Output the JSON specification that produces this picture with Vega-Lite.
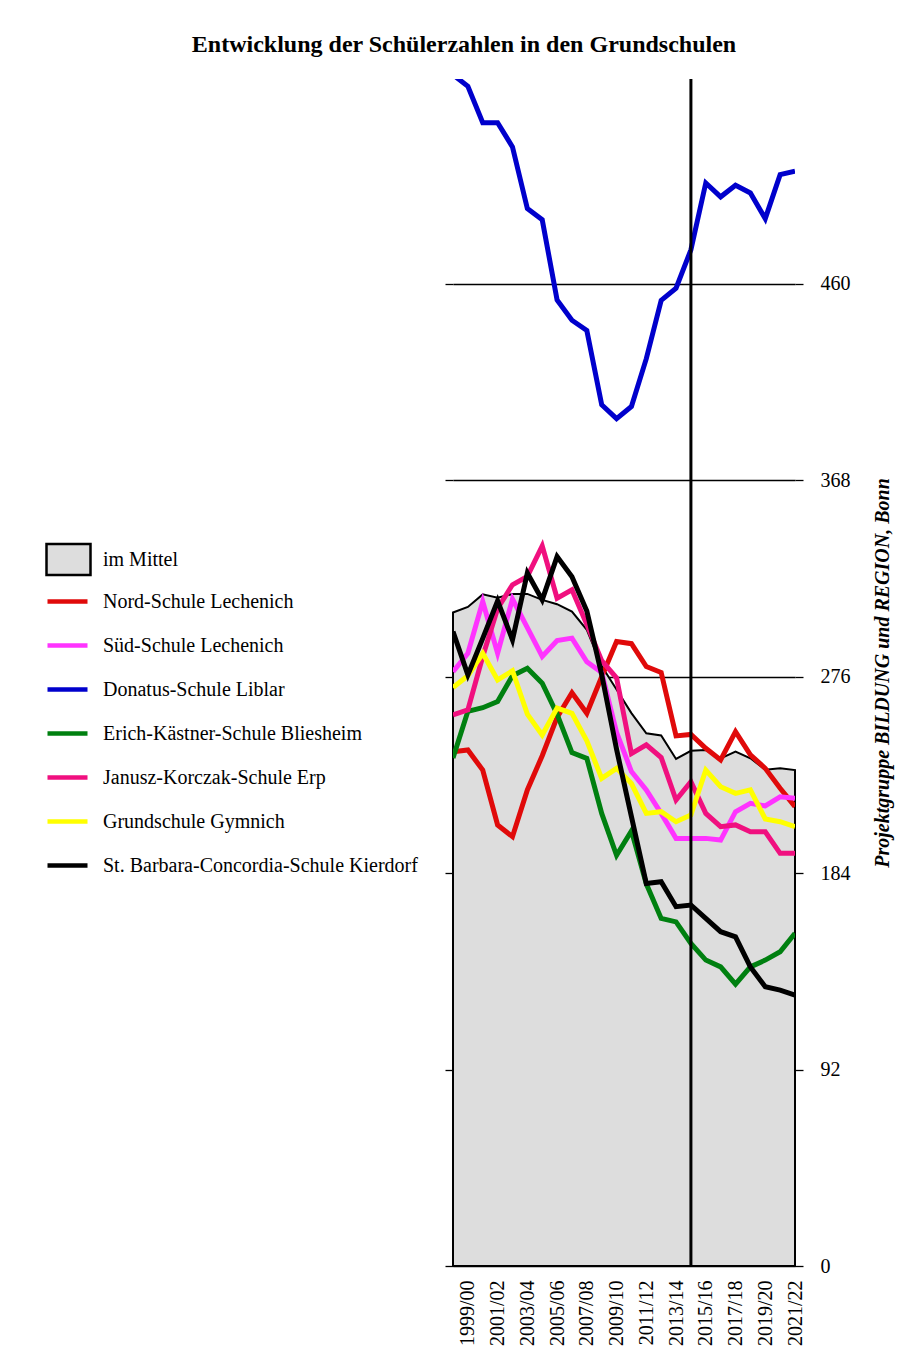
{
  "$schema": "https://vega.github.io/schema/vega-lite/v6.json",
  "width": 342,
  "height": 1187,
  "autosize": {"type": "none"},
  "padding": {"left": 453, "top": 79, "right": 115, "bottom": 100},
  "background": "white",
  "config": {
    "view": {"stroke": null},
    "font": "Liberation Serif",
    "legend": {"padding": 0, "labelFont": "Liberation Serif", "labelFontSize": 20, "labelColor": "black", "labelLimit": 0}
  },
  "title": {
    "text": "Entwicklung der Schülerzahlen in den Grundschulen",
    "font": "Liberation Serif",
    "fontSize": 24,
    "fontWeight": "bold",
    "color": "black",
    "anchor": "middle",
    "frame": "group",
    "dx": -160,
    "offset": 21
  },
  "data": {
    "values": [
      {"jahr": "1998/99", "schule": "im Mittel", "schueler": 306.1},
      {"jahr": "1999/00", "schule": "im Mittel", "schueler": 308.7},
      {"jahr": "2000/01", "schule": "im Mittel", "schueler": 314.6},
      {"jahr": "2001/02", "schule": "im Mittel", "schueler": 313.0},
      {"jahr": "2002/03", "schule": "im Mittel", "schueler": 314.8},
      {"jahr": "2003/04", "schule": "im Mittel", "schueler": 314.8},
      {"jahr": "2004/05", "schule": "im Mittel", "schueler": 312.0},
      {"jahr": "2005/06", "schule": "im Mittel", "schueler": 310.0},
      {"jahr": "2006/07", "schule": "im Mittel", "schueler": 306.5},
      {"jahr": "2007/08", "schule": "im Mittel", "schueler": 298.0},
      {"jahr": "2008/09", "schule": "im Mittel", "schueler": 281.0},
      {"jahr": "2009/10", "schule": "im Mittel", "schueler": 270.0},
      {"jahr": "2010/11", "schule": "im Mittel", "schueler": 259.0},
      {"jahr": "2011/12", "schule": "im Mittel", "schueler": 249.5},
      {"jahr": "2012/13", "schule": "im Mittel", "schueler": 248.5},
      {"jahr": "2013/14", "schule": "im Mittel", "schueler": 237.5},
      {"jahr": "2014/15", "schule": "im Mittel", "schueler": 241.3},
      {"jahr": "2015/16", "schule": "im Mittel", "schueler": 241.7},
      {"jahr": "2016/17", "schule": "im Mittel", "schueler": 237.8},
      {"jahr": "2017/18", "schule": "im Mittel", "schueler": 240.9},
      {"jahr": "2018/19", "schule": "im Mittel", "schueler": 237.8},
      {"jahr": "2019/20", "schule": "im Mittel", "schueler": 232.5},
      {"jahr": "2020/21", "schule": "im Mittel", "schueler": 233.1},
      {"jahr": "2021/22", "schule": "im Mittel", "schueler": 232.3},

      {"jahr": "1998/99", "schule": "Nord-Schule Lechenich", "schueler": 240.9},
      {"jahr": "1999/00", "schule": "Nord-Schule Lechenich", "schueler": 241.7},
      {"jahr": "2000/01", "schule": "Nord-Schule Lechenich", "schueler": 232.3},
      {"jahr": "2001/02", "schule": "Nord-Schule Lechenich", "schueler": 206.6},
      {"jahr": "2002/03", "schule": "Nord-Schule Lechenich", "schueler": 201.1},
      {"jahr": "2003/04", "schule": "Nord-Schule Lechenich", "schueler": 223.0},
      {"jahr": "2004/05", "schule": "Nord-Schule Lechenich", "schueler": 239.0},
      {"jahr": "2005/06", "schule": "Nord-Schule Lechenich", "schueler": 257.0},
      {"jahr": "2006/07", "schule": "Nord-Schule Lechenich", "schueler": 268.5},
      {"jahr": "2007/08", "schule": "Nord-Schule Lechenich", "schueler": 258.9},
      {"jahr": "2008/09", "schule": "Nord-Schule Lechenich", "schueler": 276.0},
      {"jahr": "2009/10", "schule": "Nord-Schule Lechenich", "schueler": 292.5},
      {"jahr": "2010/11", "schule": "Nord-Schule Lechenich", "schueler": 291.5},
      {"jahr": "2011/12", "schule": "Nord-Schule Lechenich", "schueler": 280.8},
      {"jahr": "2012/13", "schule": "Nord-Schule Lechenich", "schueler": 278.0},
      {"jahr": "2013/14", "schule": "Nord-Schule Lechenich", "schueler": 248.3},
      {"jahr": "2014/15", "schule": "Nord-Schule Lechenich", "schueler": 249.0},
      {"jahr": "2015/16", "schule": "Nord-Schule Lechenich", "schueler": 242.5},
      {"jahr": "2016/17", "schule": "Nord-Schule Lechenich", "schueler": 237.0},
      {"jahr": "2017/18", "schule": "Nord-Schule Lechenich", "schueler": 250.3},
      {"jahr": "2018/19", "schule": "Nord-Schule Lechenich", "schueler": 239.4},
      {"jahr": "2019/20", "schule": "Nord-Schule Lechenich", "schueler": 233.1},
      {"jahr": "2020/21", "schule": "Nord-Schule Lechenich", "schueler": 223.8},
      {"jahr": "2021/22", "schule": "Nord-Schule Lechenich", "schueler": 215.2},

      {"jahr": "1998/99", "schule": "Süd-Schule Lechenich", "schueler": 278.4},
      {"jahr": "1999/00", "schule": "Süd-Schule Lechenich", "schueler": 287.0},
      {"jahr": "2000/01", "schule": "Süd-Schule Lechenich", "schueler": 311.2},
      {"jahr": "2001/02", "schule": "Süd-Schule Lechenich", "schueler": 287.0},
      {"jahr": "2002/03", "schule": "Süd-Schule Lechenich", "schueler": 312.4},
      {"jahr": "2003/04", "schule": "Süd-Schule Lechenich", "schueler": 299.0},
      {"jahr": "2004/05", "schule": "Süd-Schule Lechenich", "schueler": 285.5},
      {"jahr": "2005/06", "schule": "Süd-Schule Lechenich", "schueler": 293.0},
      {"jahr": "2006/07", "schule": "Süd-Schule Lechenich", "schueler": 294.1},
      {"jahr": "2007/08", "schule": "Süd-Schule Lechenich", "schueler": 283.0},
      {"jahr": "2008/09", "schule": "Süd-Schule Lechenich", "schueler": 278.0},
      {"jahr": "2009/10", "schule": "Süd-Schule Lechenich", "schueler": 250.0},
      {"jahr": "2010/11", "schule": "Süd-Schule Lechenich", "schueler": 231.6},
      {"jahr": "2011/12", "schule": "Süd-Schule Lechenich", "schueler": 223.0},
      {"jahr": "2012/13", "schule": "Süd-Schule Lechenich", "schueler": 212.0},
      {"jahr": "2013/14", "schule": "Süd-Schule Lechenich", "schueler": 200.3},
      {"jahr": "2014/15", "schule": "Süd-Schule Lechenich", "schueler": 200.3},
      {"jahr": "2015/16", "schule": "Süd-Schule Lechenich", "schueler": 200.3},
      {"jahr": "2016/17", "schule": "Süd-Schule Lechenich", "schueler": 199.5},
      {"jahr": "2017/18", "schule": "Süd-Schule Lechenich", "schueler": 212.8},
      {"jahr": "2018/19", "schule": "Süd-Schule Lechenich", "schueler": 216.7},
      {"jahr": "2019/20", "schule": "Süd-Schule Lechenich", "schueler": 215.5},
      {"jahr": "2020/21", "schule": "Süd-Schule Lechenich", "schueler": 219.8},
      {"jahr": "2021/22", "schule": "Süd-Schule Lechenich", "schueler": 219.1},

      {"jahr": "1998/99", "schule": "Donatus-Schule Liblar", "schueler": 558.0},
      {"jahr": "1999/00", "schule": "Donatus-Schule Liblar", "schueler": 552.6},
      {"jahr": "2000/01", "schule": "Donatus-Schule Liblar", "schueler": 535.5},
      {"jahr": "2001/02", "schule": "Donatus-Schule Liblar", "schueler": 535.5},
      {"jahr": "2002/03", "schule": "Donatus-Schule Liblar", "schueler": 524.2},
      {"jahr": "2003/04", "schule": "Donatus-Schule Liblar", "schueler": 495.3},
      {"jahr": "2004/05", "schule": "Donatus-Schule Liblar", "schueler": 490.1},
      {"jahr": "2005/06", "schule": "Donatus-Schule Liblar", "schueler": 452.5},
      {"jahr": "2006/07", "schule": "Donatus-Schule Liblar", "schueler": 443.0},
      {"jahr": "2007/08", "schule": "Donatus-Schule Liblar", "schueler": 438.2},
      {"jahr": "2008/09", "schule": "Donatus-Schule Liblar", "schueler": 403.4},
      {"jahr": "2009/10", "schule": "Donatus-Schule Liblar", "schueler": 396.9},
      {"jahr": "2010/11", "schule": "Donatus-Schule Liblar", "schueler": 402.6},
      {"jahr": "2011/12", "schule": "Donatus-Schule Liblar", "schueler": 425.0},
      {"jahr": "2012/13", "schule": "Donatus-Schule Liblar", "schueler": 452.3},
      {"jahr": "2013/14", "schule": "Donatus-Schule Liblar", "schueler": 458.0},
      {"jahr": "2014/15", "schule": "Donatus-Schule Liblar", "schueler": 476.0},
      {"jahr": "2015/16", "schule": "Donatus-Schule Liblar", "schueler": 507.3},
      {"jahr": "2016/17", "schule": "Donatus-Schule Liblar", "schueler": 500.8},
      {"jahr": "2017/18", "schule": "Donatus-Schule Liblar", "schueler": 506.2},
      {"jahr": "2018/19", "schule": "Donatus-Schule Liblar", "schueler": 502.6},
      {"jahr": "2019/20", "schule": "Donatus-Schule Liblar", "schueler": 490.6},
      {"jahr": "2020/21", "schule": "Donatus-Schule Liblar", "schueler": 511.2},
      {"jahr": "2021/22", "schule": "Donatus-Schule Liblar", "schueler": 512.8},

      {"jahr": "1998/99", "schule": "Erich-Kästner-Schule Bliesheim", "schueler": 238.0},
      {"jahr": "1999/00", "schule": "Erich-Kästner-Schule Bliesheim", "schueler": 259.8},
      {"jahr": "2000/01", "schule": "Erich-Kästner-Schule Bliesheim", "schueler": 261.5},
      {"jahr": "2001/02", "schule": "Erich-Kästner-Schule Bliesheim", "schueler": 264.4},
      {"jahr": "2002/03", "schule": "Erich-Kästner-Schule Bliesheim", "schueler": 276.5},
      {"jahr": "2003/04", "schule": "Erich-Kästner-Schule Bliesheim", "schueler": 280.0},
      {"jahr": "2004/05", "schule": "Erich-Kästner-Schule Bliesheim", "schueler": 273.0},
      {"jahr": "2005/06", "schule": "Erich-Kästner-Schule Bliesheim", "schueler": 258.5},
      {"jahr": "2006/07", "schule": "Erich-Kästner-Schule Bliesheim", "schueler": 240.5},
      {"jahr": "2007/08", "schule": "Erich-Kästner-Schule Bliesheim", "schueler": 237.8},
      {"jahr": "2008/09", "schule": "Erich-Kästner-Schule Bliesheim", "schueler": 212.0},
      {"jahr": "2009/10", "schule": "Erich-Kästner-Schule Bliesheim", "schueler": 192.4},
      {"jahr": "2010/11", "schule": "Erich-Kästner-Schule Bliesheim", "schueler": 203.8},
      {"jahr": "2011/12", "schule": "Erich-Kästner-Schule Bliesheim", "schueler": 179.0},
      {"jahr": "2012/13", "schule": "Erich-Kästner-Schule Bliesheim", "schueler": 162.8},
      {"jahr": "2013/14", "schule": "Erich-Kästner-Schule Bliesheim", "schueler": 161.2},
      {"jahr": "2014/15", "schule": "Erich-Kästner-Schule Bliesheim", "schueler": 151.1},
      {"jahr": "2015/16", "schule": "Erich-Kästner-Schule Bliesheim", "schueler": 143.3},
      {"jahr": "2016/17", "schule": "Erich-Kästner-Schule Bliesheim", "schueler": 140.1},
      {"jahr": "2017/18", "schule": "Erich-Kästner-Schule Bliesheim", "schueler": 132.0},
      {"jahr": "2018/19", "schule": "Erich-Kästner-Schule Bliesheim", "schueler": 140.1},
      {"jahr": "2019/20", "schule": "Erich-Kästner-Schule Bliesheim", "schueler": 143.3},
      {"jahr": "2020/21", "schule": "Erich-Kästner-Schule Bliesheim", "schueler": 147.2},
      {"jahr": "2021/22", "schule": "Erich-Kästner-Schule Bliesheim", "schueler": 155.8},

      {"jahr": "1998/99", "schule": "Janusz-Korczak-Schule Erp", "schueler": 258.1},
      {"jahr": "1999/00", "schule": "Janusz-Korczak-Schule Erp", "schueler": 260.5},
      {"jahr": "2000/01", "schule": "Janusz-Korczak-Schule Erp", "schueler": 285.5},
      {"jahr": "2001/02", "schule": "Janusz-Korczak-Schule Erp", "schueler": 308.0},
      {"jahr": "2002/03", "schule": "Janusz-Korczak-Schule Erp", "schueler": 319.1},
      {"jahr": "2003/04", "schule": "Janusz-Korczak-Schule Erp", "schueler": 323.0},
      {"jahr": "2004/05", "schule": "Janusz-Korczak-Schule Erp", "schueler": 337.3},
      {"jahr": "2005/06", "schule": "Janusz-Korczak-Schule Erp", "schueler": 312.8},
      {"jahr": "2006/07", "schule": "Janusz-Korczak-Schule Erp", "schueler": 316.7},
      {"jahr": "2007/08", "schule": "Janusz-Korczak-Schule Erp", "schueler": 300.5},
      {"jahr": "2008/09", "schule": "Janusz-Korczak-Schule Erp", "schueler": 283.5},
      {"jahr": "2009/10", "schule": "Janusz-Korczak-Schule Erp", "schueler": 275.5},
      {"jahr": "2010/11", "schule": "Janusz-Korczak-Schule Erp", "schueler": 240.0},
      {"jahr": "2011/12", "schule": "Janusz-Korczak-Schule Erp", "schueler": 244.1},
      {"jahr": "2012/13", "schule": "Janusz-Korczak-Schule Erp", "schueler": 238.2},
      {"jahr": "2013/14", "schule": "Janusz-Korczak-Schule Erp", "schueler": 218.3},
      {"jahr": "2014/15", "schule": "Janusz-Korczak-Schule Erp", "schueler": 226.9},
      {"jahr": "2015/16", "schule": "Janusz-Korczak-Schule Erp", "schueler": 212.0},
      {"jahr": "2016/17", "schule": "Janusz-Korczak-Schule Erp", "schueler": 205.8},
      {"jahr": "2017/18", "schule": "Janusz-Korczak-Schule Erp", "schueler": 206.6},
      {"jahr": "2018/19", "schule": "Janusz-Korczak-Schule Erp", "schueler": 203.4},
      {"jahr": "2019/20", "schule": "Janusz-Korczak-Schule Erp", "schueler": 203.4},
      {"jahr": "2020/21", "schule": "Janusz-Korczak-Schule Erp", "schueler": 193.3},
      {"jahr": "2021/22", "schule": "Janusz-Korczak-Schule Erp", "schueler": 193.3},

      {"jahr": "1998/99", "schule": "Grundschule Gymnich", "schueler": 271.0},
      {"jahr": "1999/00", "schule": "Grundschule Gymnich", "schueler": 276.5},
      {"jahr": "2000/01", "schule": "Grundschule Gymnich", "schueler": 287.0},
      {"jahr": "2001/02", "schule": "Grundschule Gymnich", "schueler": 274.5},
      {"jahr": "2002/03", "schule": "Grundschule Gymnich", "schueler": 278.8},
      {"jahr": "2003/04", "schule": "Grundschule Gymnich", "schueler": 258.5},
      {"jahr": "2004/05", "schule": "Grundschule Gymnich", "schueler": 248.7},
      {"jahr": "2005/06", "schule": "Grundschule Gymnich", "schueler": 261.3},
      {"jahr": "2006/07", "schule": "Grundschule Gymnich", "schueler": 258.9},
      {"jahr": "2007/08", "schule": "Grundschule Gymnich", "schueler": 246.0},
      {"jahr": "2008/09", "schule": "Grundschule Gymnich", "schueler": 228.4},
      {"jahr": "2009/10", "schule": "Grundschule Gymnich", "schueler": 233.1},
      {"jahr": "2010/11", "schule": "Grundschule Gymnich", "schueler": 226.0},
      {"jahr": "2011/12", "schule": "Grundschule Gymnich", "schueler": 212.0},
      {"jahr": "2012/13", "schule": "Grundschule Gymnich", "schueler": 212.8},
      {"jahr": "2013/14", "schule": "Grundschule Gymnich", "schueler": 208.1},
      {"jahr": "2014/15", "schule": "Grundschule Gymnich", "schueler": 211.3},
      {"jahr": "2015/16", "schule": "Grundschule Gymnich", "schueler": 232.3},
      {"jahr": "2016/17", "schule": "Grundschule Gymnich", "schueler": 224.5},
      {"jahr": "2017/18", "schule": "Grundschule Gymnich", "schueler": 221.4},
      {"jahr": "2018/19", "schule": "Grundschule Gymnich", "schueler": 223.0},
      {"jahr": "2019/20", "schule": "Grundschule Gymnich", "schueler": 209.4},
      {"jahr": "2020/21", "schule": "Grundschule Gymnich", "schueler": 208.1},
      {"jahr": "2021/22", "schule": "Grundschule Gymnich", "schueler": 205.8},

      {"jahr": "1998/99", "schule": "St. Barbara-Concordia-Schule Kierdorf", "schueler": 297.2},
      {"jahr": "1999/00", "schule": "St. Barbara-Concordia-Schule Kierdorf", "schueler": 276.9},
      {"jahr": "2000/01", "schule": "St. Barbara-Concordia-Schule Kierdorf", "schueler": 294.0},
      {"jahr": "2001/02", "schule": "St. Barbara-Concordia-Schule Kierdorf", "schueler": 311.5},
      {"jahr": "2002/03", "schule": "St. Barbara-Concordia-Schule Kierdorf", "schueler": 293.3},
      {"jahr": "2003/04", "schule": "St. Barbara-Concordia-Schule Kierdorf", "schueler": 324.6},
      {"jahr": "2004/05", "schule": "St. Barbara-Concordia-Schule Kierdorf", "schueler": 312.0},
      {"jahr": "2005/06", "schule": "St. Barbara-Concordia-Schule Kierdorf", "schueler": 332.3},
      {"jahr": "2006/07", "schule": "St. Barbara-Concordia-Schule Kierdorf", "schueler": 322.9},
      {"jahr": "2007/08", "schule": "St. Barbara-Concordia-Schule Kierdorf", "schueler": 306.8},
      {"jahr": "2008/09", "schule": "St. Barbara-Concordia-Schule Kierdorf", "schueler": 277.0},
      {"jahr": "2009/10", "schule": "St. Barbara-Concordia-Schule Kierdorf", "schueler": 242.0},
      {"jahr": "2010/11", "schule": "St. Barbara-Concordia-Schule Kierdorf", "schueler": 210.5},
      {"jahr": "2011/12", "schule": "St. Barbara-Concordia-Schule Kierdorf", "schueler": 179.2},
      {"jahr": "2012/13", "schule": "St. Barbara-Concordia-Schule Kierdorf", "schueler": 180.0},
      {"jahr": "2013/14", "schule": "St. Barbara-Concordia-Schule Kierdorf", "schueler": 168.3},
      {"jahr": "2014/15", "schule": "St. Barbara-Concordia-Schule Kierdorf", "schueler": 169.1},
      {"jahr": "2015/16", "schule": "St. Barbara-Concordia-Schule Kierdorf", "schueler": 162.8},
      {"jahr": "2016/17", "schule": "St. Barbara-Concordia-Schule Kierdorf", "schueler": 156.6},
      {"jahr": "2017/18", "schule": "St. Barbara-Concordia-Schule Kierdorf", "schueler": 154.2},
      {"jahr": "2018/19", "schule": "St. Barbara-Concordia-Schule Kierdorf", "schueler": 140.1},
      {"jahr": "2019/20", "schule": "St. Barbara-Concordia-Schule Kierdorf", "schueler": 130.8},
      {"jahr": "2020/21", "schule": "St. Barbara-Concordia-Schule Kierdorf", "schueler": 129.2},
      {"jahr": "2021/22", "schule": "St. Barbara-Concordia-Schule Kierdorf", "schueler": 126.9}
    ]
  },
  "encoding": {
    "x": {
      "field": "jahr", "type": "ordinal",
      "scale": {"type": "point", "padding": 0},
      "axis": {
        "orient": "bottom",
        "values": ["1999/00", "2001/02", "2003/04", "2005/06", "2007/08", "2009/10", "2011/12", "2013/14", "2015/16", "2017/18", "2019/20", "2021/22"],
        "labelAngle": 270,
        "labelFont": "Liberation Serif", "labelFontSize": 20, "labelColor": "black",
        "labelPadding": 14,
        "ticks": false, "domain": false,
        "title": null
      }
    }
  },
  "resolve": {"scale": {"y": "independent"}, "axis": {"y": "independent"}},
  "layer": [
    {
      "transform": [{"filter": "datum.schule === 'im Mittel'"}],
      "mark": {"type": "area", "stroke": "black", "strokeWidth": 2, "opacity": 1},
      "encoding": {
        "y": {
          "field": "schueler", "type": "quantitative",
          "scale": {"domain": [0, 556], "nice": false, "zero": true},
          "axis": {
            "orient": "left", "values": [0, 92, 184, 276, 368, 460],
            "labels": false, "grid": false, "domain": false,
            "ticks": true, "tickSize": 8, "tickColor": "black", "tickWidth": 1.3,
            "title": null
          }
        },
        "fill": {
          "field": "schule", "type": "nominal",
          "scale": {"domain": ["im Mittel"], "range": ["#dddddd"]},
          "legend": {
            "orient": "none", "legendX": -408, "legendY": 457,
            "title": null,
            "symbolType": "M-1,-0.7H1V0.7H-1Z",
            "symbolSize": 1936,
            "symbolStrokeColor": "black",
            "symbolStrokeWidth": 2.5,
            "symbolOpacity": 1,
            "labelOffset": 11
          }
        }
      }
    },
    {
      "transform": [{"filter": "datum.schule !== 'im Mittel'"}],
      "mark": {"type": "line", "strokeWidth": 5, "clip": true},
      "encoding": {
        "y": {
          "field": "schueler", "type": "quantitative",
          "scale": {"domain": [0, 556], "nice": false, "zero": true},
          "axis": {
            "orient": "right", "values": [0, 92, 184, 276, 368, 460],
            "grid": true, "gridColor": "black", "gridWidth": 1.3, "gridOpacity": 1,
            "ticks": true, "tickSize": 8, "tickColor": "black", "tickWidth": 1.3,
            "domain": false,
            "labelFont": "Liberation Serif", "labelFontSize": 20, "labelColor": "black",
            "labelPadding": 17,
            "title": "Projektgruppe BILDUNG und REGION, Bonn",
            "titleAngle": 270,
            "titleFont": "Liberation Serif", "titleFontSize": 20,
            "titleFontStyle": "italic", "titleFontWeight": "bold",
            "titleColor": "black", "titlePadding": 42
          }
        },
        "color": {
          "field": "schule", "type": "nominal",
          "scale": {
            "domain": ["Nord-Schule Lechenich", "Süd-Schule Lechenich", "Donatus-Schule Liblar", "Erich-Kästner-Schule Bliesheim", "Janusz-Korczak-Schule Erp", "Grundschule Gymnich", "St. Barbara-Concordia-Schule Kierdorf"],
            "range": ["#e00a0a", "#ff33ff", "#0000cc", "#008010", "#f0107f", "#ffff00", "#000000"]
          },
          "legend": {
            "orient": "none", "legendX": -408, "legendY": 500,
            "title": null,
            "symbolType": "stroke",
            "symbolSize": 1600,
            "symbolStrokeWidth": 4.5,
            "rowPadding": 11,
            "labelOffset": 13
          }
        }
      }
    },
    {
      "transform": [{"filter": "datum.schule === 'im Mittel' && datum.jahr === '2014/15'"}],
      "mark": {"type": "rule", "color": "black", "strokeWidth": 3}
    }
  ]
}
